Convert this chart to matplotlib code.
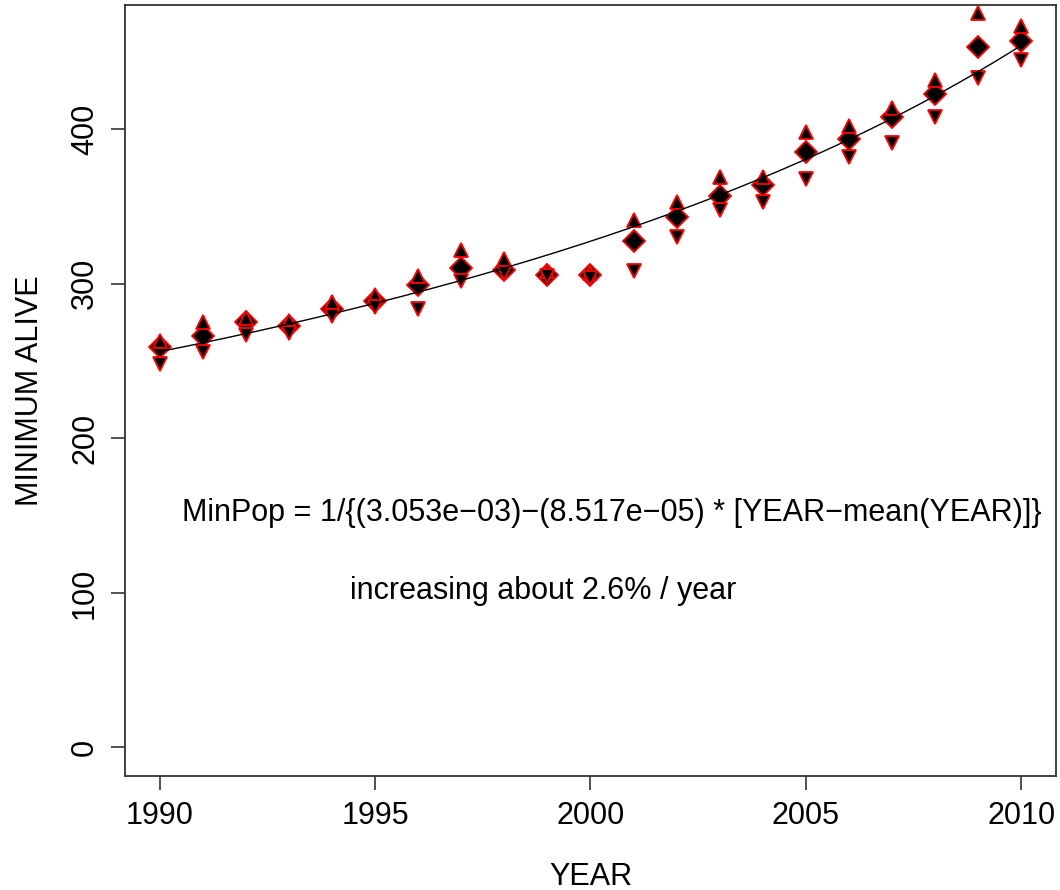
import numpy as np
import matplotlib
matplotlib.use("Agg")
import matplotlib.pyplot as plt

plt.rcParams['font.family'] = ['Liberation Sans', 'DejaVu Sans']

# minimum number alive per year, with upper / lower bounds
years = list(range(1990, 2011))
est = [259, 266, 275, 273, 284, 289, 299, 310, 309, 306, 306,
       328, 343, 357, 364, 385, 394, 408, 423, 453, 457]
upper = [263, 275, 278, 276, 288, 293, 305, 322, 316, 308, 307,
         341, 353, 369, 369, 398, 402, 414, 432, 475, 467]
lower = [248, 256, 267, 268, 279, 285, 284, 302, 307, 305, 304,
         308, 330, 348, 353, 368, 382, 391, 408, 433, 445]

# fitted coefficients shown in the label
a_coef = 3.053e-03
b_coef = 8.517e-05

fig = plt.figure(figsize=(10.6, 8.9), dpi=100)
ax = fig.add_axes([0.118, 0.128, 0.878, 0.8665])

ax.plot(years, est, linestyle='none', marker='D', markersize=11.5,
        markerfacecolor='black', markeredgecolor='red', markeredgewidth=1.3, zorder=2)
ax.plot(years, upper, linestyle='none', marker='^', markersize=10,
        markerfacecolor='black', markeredgecolor='red', markeredgewidth=1.3, zorder=3)
ax.plot(years, lower, linestyle='none', marker='v', markersize=10,
        markerfacecolor='black', markeredgecolor='red', markeredgewidth=1.3, zorder=3)

yr = np.linspace(1990, 2010, 200)
fit = 1.0 / (a_coef - b_coef * (yr - np.mean(years)))
ax.plot(yr, fit, color='black', linewidth=1.0, zorder=4)

ax.text(2000.5, 152, "MinPop = 1/{(3.053e\u221203)\u2212(8.517e\u221205) * [YEAR\u2212mean(YEAR)]}",
        ha='center', va='center', fontsize=22)
ax.text(1998.9, 101, "increasing about 2.6% / year", ha='center', va='center', fontsize=22)

ax.set_xlim(1989.2, 2010.8)
ax.set_ylim(-18.5, 480.5)
ax.set_xticks([1990, 1995, 2000, 2005, 2010])
ax.set_yticks([0, 100, 200, 300, 400])
ax.tick_params(axis='both', labelsize=22, length=10, width=1.2, color='#333333', pad=8)
plt.setp(ax.get_yticklabels(), rotation=90, va='center')

for s in ax.spines.values():
    s.set_linewidth(1.3)
    s.set_color('#333333')

ax.set_xlabel("YEAR", fontsize=22, labelpad=22)
ax.set_ylabel("MINIMUM ALIVE", fontsize=22, labelpad=18)

fig.savefig("out.png", dpi=100)
